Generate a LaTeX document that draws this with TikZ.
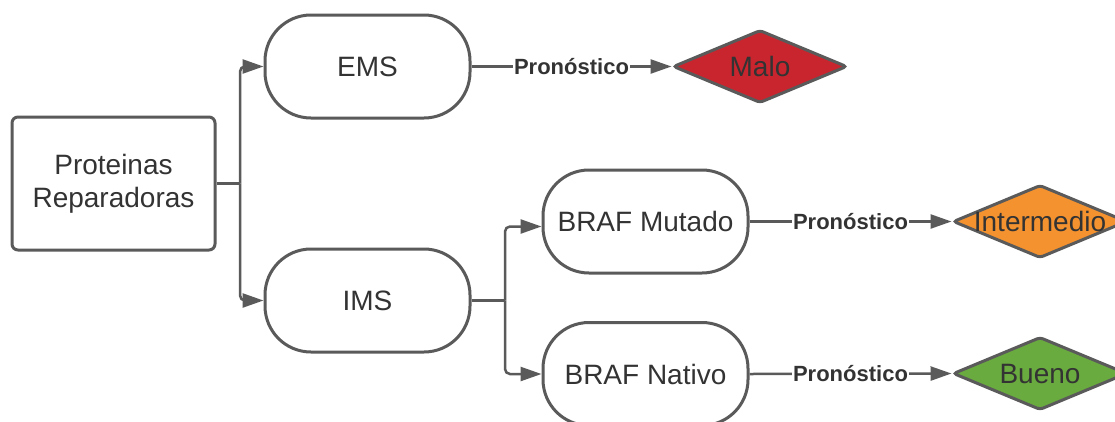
\documentclass[tikz,border=0pt]{standalone}
\usepackage{fontspec}
\setmainfont{Liberation Sans}
\usetikzlibrary{shapes.geometric,arrows.meta}
\definecolor{edge}{HTML}{5A5A5A}
\definecolor{ink}{HTML}{333333}
\definecolor{malo}{HTML}{C9252F}
\definecolor{inter}{HTML}{F4922F}
\definecolor{bueno}{HTML}{6AAB3F}
\tikzset{
  base/.style={draw=edge, line width=3pt, text=ink, font=\fontsize{28}{33}\selectfont, inner sep=0pt},
  rootbox/.style={base, rectangle, rounded corners=6pt, minimum width=203pt, minimum height=133pt, align=center},
  term/.style={base, rectangle, rounded corners=46pt, minimum width=205pt, minimum height=103pt},
  dia/.style={base, diamond, rounded corners=3pt, minimum width=174pt, minimum height=73pt},
  conn/.style={draw=edge, line width=2.5pt, -{Triangle[length=21pt,width=14pt]}},
  plain/.style={draw=edge, line width=2.5pt},
  lab/.style={fill=white, inner sep=1pt, text=ink, font=\bfseries\fontsize{22}{24}\selectfont},
  dtext/.style={text=ink, font=\fontsize{28}{33}\selectfont, inner sep=0pt}
}
\begin{document}
\begin{tikzpicture}[x=1pt,y=-1pt]
\useasboundingbox (0,0) rectangle (1115,421);
\clip (0,0) rectangle (1115,421);
\fill[white] (0,0) rectangle (1115,421);

\node[rootbox] (root) at (113.5,183.5) {Proteinas\\Reparadoras};
\node[term] (ems) at (367.5,66.5) {EMS};
\node[term] (ims) at (367.5,300.5) {IMS};
\node[term] (bm) at (645.5,221.5) {BRAF Mutado};
\node[term] (bn) at (645.5,374) {BRAF Nativo};

\node[dia, fill=malo] (malo) at (760,66.5) {};
\node[dtext] (malot) at (malo.center) {Malo};
\node[dia, fill=inter] (inter) at (1040,221.5) {};
\node[dtext] (intert) at (inter.center) {Intermedio};
\node[dia, fill=bueno] (bueno) at (1040,373.5) {};
\node[dtext] (buenot) at (bueno.center) {Bueno};

\coordinate (j1) at (240,183.5);
\coordinate (j2) at (505,300.5);

\draw[plain] (root.east) -- (j1);
\draw[conn, rounded corners=5pt] (j1) |- (ems.west);
\draw[conn, rounded corners=5pt] (j1) |- (ims.west);

\draw[plain] (ims.east) -- (j2);
\draw[conn, rounded corners=5pt] (j2) |- ([yshift=-5pt]bm.west);
\draw[conn, rounded corners=5pt] (j2) |- (bn.west);

\draw[conn] (ems.east) -- node[lab] (l1) {Pronóstico} (malo.west);
\draw[conn] (bm.east) -- node[lab] (l2) {Pronóstico} (inter.west);
\draw[conn] (bn.east) -- node[lab] (l3) {Pronóstico} (bueno.west);
\end{tikzpicture}
\end{document}
